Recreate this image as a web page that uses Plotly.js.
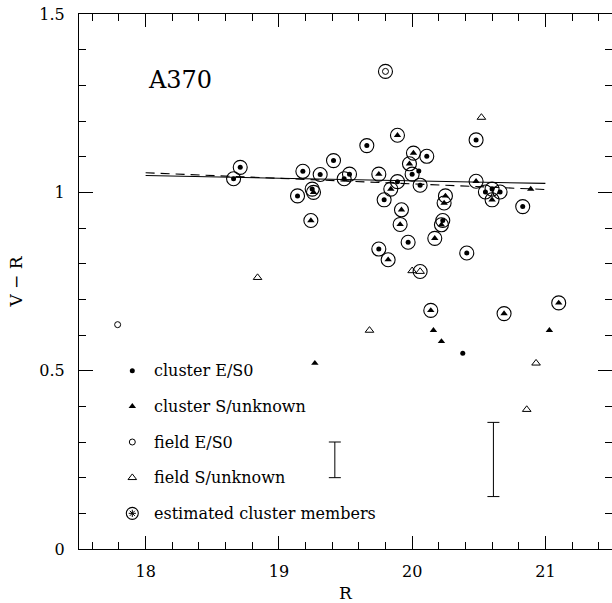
<!DOCTYPE html>
<html>
<head>
<meta charset="utf-8">
<script src="https://cdn.plot.ly/plotly-3.0.1.min.js"></script>
<style>html,body{margin:0;padding:0;background:#fff}#chart{width:612px;height:603px}</style>
</head>
<body>
<div id="chart"></div>
<script>
// ---- Data ----
// cluster E/S0 (filled dots); mem = 1 means "estimated cluster member" (circled)
const esoR   = [19.66, 19.41, 20.11, 20.00, 19.53, 19.49, 19.89, 20.06, 19.79, 20.23, 19.97, 19.75,
                20.48, 20.55, 20.60, 20.66, 20.83, 20.41, 18.71, 18.66, 19.18, 19.31, 19.14, 19.25,
                20.05, 20.38];
const esoVR  = [1.131, 1.089, 1.101, 1.051, 1.051, 1.038, 1.030, 1.020, 0.979, 0.921, 0.860, 0.841,
                1.147, 1.001, 1.009, 1.001, 0.960, 0.830, 1.070, 1.038, 1.059, 1.050, 0.990, 1.009,
                1.060, 0.549];
const esoMem = [1,1,1,1,1,1,1,1,1,1,1,1, 1,1,1,1,1,1,1,1,1,1,1,1, 0,0];

// cluster S/unknown (filled triangles)
const ssuR   = [19.89, 20.01, 19.98, 19.75, 19.84, 20.25, 20.24, 19.92, 19.91, 20.22, 20.17, 19.82,
                20.48, 20.60, 19.24, 20.14, 20.69, 21.10, 19.26,
                20.89, 19.27, 20.16, 20.22, 21.03];
const ssuVR  = [1.160, 1.110, 1.080, 1.051, 1.009, 0.990, 0.970, 0.951, 0.910, 0.909, 0.871, 0.811,
                1.031, 0.979, 0.921, 0.669, 0.660, 0.690, 1.000,
                1.009, 0.521, 0.613, 0.582, 0.613];
const ssuMem = [1,1,1,1,1,1,1,1,1,1,1,1, 1,1,1,1,1,1,1, 0,0,0,0,0];

// field E/S0 (open circles)
const fesoR   = [17.79, 19.80];
const fesoVR  = [0.629, 1.339];
const fesoMem = [0, 1];

// field S/unknown (open triangles)
const fsuR   = [18.84, 19.68, 20.52, 20.00, 20.93, 20.86, 20.06];
const fsuVR  = [0.761, 0.613, 1.210, 0.780, 0.521, 0.391, 0.778];
const fsuMem = [0, 0, 0, 0, 0, 0, 1];

// fitted relations
const fitR      = [18.0, 21.0];
const solidVR   = [1.047, 1.025];
const dashedVR  = [1.055, 1.008];

// typical error bars
const errR    = [19.42, 20.61];
const errVR   = [0.250, 0.251];
const errHalf = [0.050, 0.104];

// legend
const legLabels = ["cluster E/S0", "cluster S/unknown", "field E/S0", "field S/unknown", "estimated cluster members"];
const legVR     = [0.5, 0.4, 0.3, 0.2, 0.1];
const legSymR   = 17.9;
const legTextR  = 18.05;

const xTitle = "R";
const yTitle = "V \u2212 R";
const panelLabel = "A370";

// ---- Build traces ----
const FONT = "DejaVu Serif";
function pick(arr, mem, flag){ return arr.filter((v,i)=>mem[i]===flag); }
const ringR  = [].concat(pick(esoR,esoMem,1), pick(ssuR,ssuMem,1), pick(fesoR,fesoMem,1), pick(fsuR,fsuMem,1));
const ringVR = [].concat(pick(esoVR,esoMem,1), pick(ssuVR,ssuMem,1), pick(fesoVR,fesoMem,1), pick(fsuVR,fsuMem,1));

const traces = [
  {x: fitR, y: solidVR, mode: 'lines', line: {color: 'black', width: 1.1}, hoverinfo: 'skip'},
  {x: fitR, y: dashedVR, mode: 'lines', line: {color: 'black', width: 1.1, dash: '9px,6px'}, hoverinfo: 'skip'},
  {x: esoR, y: esoVR, mode: 'markers', marker: {symbol: 'circle', size: 5, color: 'black'}},
  {x: ssuR, y: ssuVR, mode: 'markers', marker: {symbol: 'triangle-up', size: 6.5, color: 'black'}},
  {x: fesoR, y: fesoVR, mode: 'markers', marker: {symbol: 'circle-open', size: 6, color: 'black', line: {width: 1}}},
  {x: fsuR, y: fsuVR, mode: 'markers', marker: {symbol: 'triangle-up-open', size: 7.5, color: 'black', line: {width: 1}}},
  {x: ringR, y: ringVR, mode: 'markers', marker: {symbol: 'circle-open', size: 14, color: 'black', line: {width: 1.1}}},
  {x: errR, y: errVR, mode: 'markers', marker: {size: 1, color: 'rgba(0,0,0,0)'},
   error_y: {type: 'data', array: errHalf, visible: true, color: 'black', thickness: 1, width: 6}},
  // legend keys
  {x: [legSymR], y: [legVR[0]], mode: 'markers', marker: {symbol: 'circle', size: 5, color: 'black'}},
  {x: [legSymR], y: [legVR[1]], mode: 'markers', marker: {symbol: 'triangle-up', size: 6.5, color: 'black'}},
  {x: [legSymR], y: [legVR[2]], mode: 'markers', marker: {symbol: 'circle-open', size: 6, color: 'black', line: {width: 1}}},
  {x: [legSymR], y: [legVR[3]], mode: 'markers', marker: {symbol: 'triangle-up-open', size: 7.5, color: 'black', line: {width: 1}}},
  {x: [legSymR], y: [legVR[4]], mode: 'markers', marker: {symbol: 'circle-open', size: 12, color: 'black', line: {width: 1.1}}},
  {x: [legSymR], y: [legVR[4]], mode: 'markers', marker: {symbol: 'asterisk-open', size: 6, color: 'black', line: {width: 1}}}
];

const annotations = legLabels.map((t,i)=>({
  x: legTextR, y: legVR[i], xref: 'x', yref: 'y', text: t, showarrow: false,
  xanchor: 'left', yanchor: 'middle', font: {family: FONT, size: 16, color: 'black'}
}));
annotations.push({x: 18.0, y: 1.316, xref: 'x', yref: 'y', text: panelLabel, showarrow: false,
  xanchor: 'left', yanchor: 'middle', font: {family: FONT, size: 24, color: 'black'}});

const axisCommon = {
  showgrid: false, zeroline: false, showline: true, linecolor: 'black', linewidth: 1,
  mirror: 'allticks', ticks: 'inside', tickcolor: 'black', tickwidth: 1,
  tickfont: {family: FONT, size: 16, color: 'black'}
};

const layout = {
  width: 612, height: 603,
  margin: {l: 79, r: 0, t: 14, b: 54, pad: 0},
  paper_bgcolor: 'white', plot_bgcolor: 'white',
  showlegend: false,
  font: {family: FONT, color: 'black'},
  xaxis: Object.assign({}, axisCommon, {
    range: [17.5, 21.5], tick0: 18, dtick: 1, ticklen: 13, ticklabelstandoff: 8,
    minor: {dtick: 0.2, tick0: 17.6, ticks: 'inside', ticklen: 7, tickcolor: 'black', tickwidth: 1},
    title: {text: xTitle, font: {family: FONT, size: 17, color: 'black'}, standoff: 7},
    automargin: false
  }),
  yaxis: Object.assign({}, axisCommon, {
    range: [0, 1.5], tick0: 0, dtick: 0.5, ticklen: 14, ticklabelstandoff: 10,
    minor: {dtick: 0.1, ticks: 'inside', ticklen: 7, tickcolor: 'black', tickwidth: 1},
    title: {text: yTitle, font: {family: FONT, size: 17, color: 'black'}, standoff: 12},
    automargin: false
  }),
  annotations: annotations
};

Plotly.newPlot('chart', traces, layout, {displayModeBar: false, staticPlot: true});
</script>
</body>
</html>
